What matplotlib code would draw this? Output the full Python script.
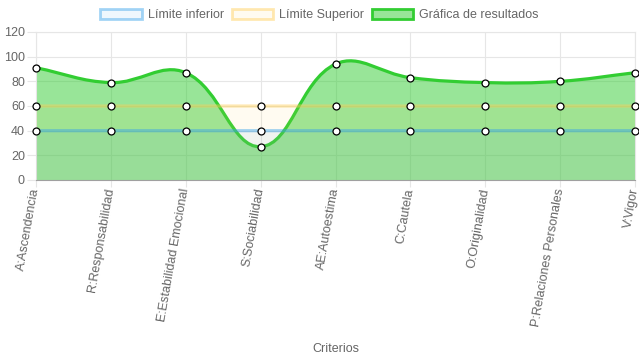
import numpy as np
import matplotlib
matplotlib.use('Agg')
import matplotlib.pyplot as plt
from matplotlib.path import Path
from matplotlib.patches import PathPatch, Patch

plt.rcParams['font.family'] = ['Liberation Sans', 'DejaVu Sans']

criterios = ['A:Ascendencia', 'R:Responsabilidad', 'E:Estabilidad Emocional',
             'S:Sociabilidad', 'AE:Autoestima', 'C:Cautela', 'O:Originalidad',
             'P:Relaciones Personales', 'V:Vigor']
limite_inferior = [40, 40, 40, 40, 40, 40, 40, 40, 40]
limite_superior = [60, 60, 60, 60, 60, 60, 60, 60, 60]
resultados = [91, 79, 87, 27, 94, 83, 79, 80, 87]

W, H = 639, 360
L, R, B, T = 36, 635, 180, 32
YMAX = 120


def spline_path(ys, sx, sy, tension=0.4):
    """Chart.js-style bezier through the points (distances in pixel space)."""
    xs = np.arange(len(ys), dtype=float)
    ys = np.asarray(ys, dtype=float)
    n = len(xs)
    cin, cout = [], []
    for i in range(n):
        p = (xs[max(i - 1, 0)], ys[max(i - 1, 0)])
        c = (xs[i], ys[i])
        nx = (xs[min(i + 1, n - 1)], ys[min(i + 1, n - 1)])
        d01 = np.hypot((c[0] - p[0]) * sx, (c[1] - p[1]) * sy)
        d12 = np.hypot((nx[0] - c[0]) * sx, (nx[1] - c[1]) * sy)
        tot = d01 + d12
        s01 = d01 / tot if tot else 0
        s12 = d12 / tot if tot else 0
        fa, fb = tension * s01, tension * s12
        cin.append((c[0] - fa * (nx[0] - p[0]), c[1] - fa * (nx[1] - p[1])))
        cout.append((c[0] + fb * (nx[0] - p[0]), c[1] + fb * (nx[1] - p[1])))
    verts = [(xs[0], ys[0])]
    codes = [Path.MOVETO]
    for i in range(1, n):
        verts += [cout[i - 1], cin[i], (xs[i], ys[i])]
        codes += [Path.CURVE4] * 3
    return verts, codes


fig = plt.figure(figsize=(W / 100, H / 100), dpi=100)
ax = fig.add_axes([L / W, 1 - B / H, (R - L) / W, (B - T) / H])
n = len(criterios)
sx = (R - L) / (n - 1)
sy = (B - T) / YMAX

datasets = [
    (limite_inferior, (54/255, 162/255, 235/255), 0.08, 0.45, 4),
    (limite_superior, (255/255, 206/255, 86/255), 0.08, 0.45, 4),
    (resultados, (50/255, 205/255, 50/255), 0.5, 1.0, 2),
]
for vals, col, fa, la, z in datasets:
    verts, codes = spline_path(vals, sx, sy)
    fverts = verts + [(n - 1, 0), (0, 0), (0, 0)]
    fcodes = codes + [Path.LINETO, Path.LINETO, Path.CLOSEPOLY]
    ax.add_patch(PathPatch(Path(fverts, fcodes), facecolor=col + (fa,),
                           edgecolor='none', zorder=z))
    ax.add_patch(PathPatch(Path(verts, codes), facecolor='none',
                           edgecolor=col + (la,), lw=2.3, zorder=z + 0.5,
                           capstyle='round'))
    ax.plot(range(n), vals, 'o', ms=5, mfc='white', mec='black', mew=0.9,
            zorder=10, clip_on=False)

ax.set_xlim(0, n - 1)
ax.set_ylim(0, YMAX)
ax.set_yticks(range(0, 121, 20))
ax.set_xticks(range(n))
ax.set_xticklabels(criterios, rotation=80, rotation_mode='anchor',
                   ha='right', va='center')
ax.grid(True, color='#e6e6e6', lw=0.8)
ax.set_axisbelow(True)
ax.tick_params(colors='#e6e6e6', labelcolor='#666666', labelsize=9,
               length=6.5, width=0.8, pad=1.5)
ax.tick_params(axis='x', length=5, pad=1)
for s in ['left', 'right', 'top']:
    ax.spines[s].set_color('#e6e6e6')
    ax.spines[s].set_linewidth(0.8)
ax.spines['bottom'].set_color('#a0a0a0')
ax.set_xlabel('Criterios', color='#666666', fontsize=9)
ax.xaxis.set_label_coords(0.5, -1.1)

handles = [
    Patch(facecolor=(54/255, 162/255, 235/255, 0.08),
          edgecolor=(54/255, 162/255, 235/255, 0.45), lw=2),
    Patch(facecolor=(255/255, 206/255, 86/255, 0.08),
          edgecolor=(255/255, 206/255, 86/255, 0.45), lw=2),
    Patch(facecolor=(50/255, 205/255, 50/255, 0.5),
          edgecolor=(50/255, 205/255, 50/255, 1.0), lw=2),
]
fig.legend(handles, ['Límite inferior', 'Límite Superior', 'Gráfica de resultados'],
           loc='center', bbox_to_anchor=(0.5, 1 - 15 / H), ncol=3, frameon=False,
           fontsize=9, handlelength=3.3, handleheight=0.9, handletextpad=0.5,
           columnspacing=0.6, labelcolor='#666666')

fig.savefig('out.png', dpi=100)
